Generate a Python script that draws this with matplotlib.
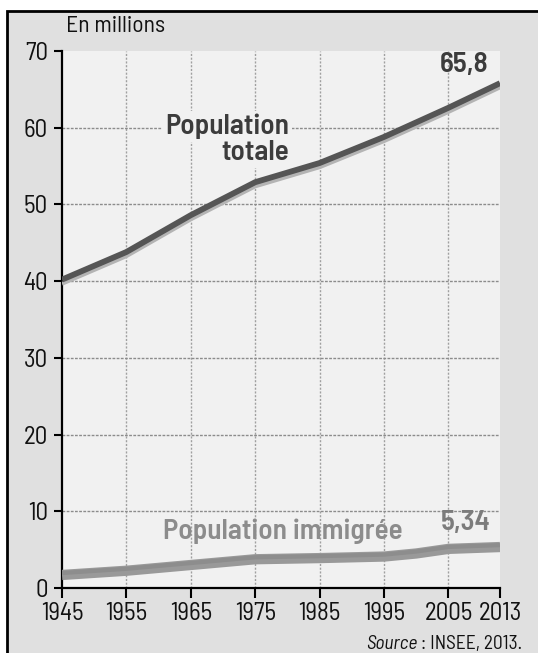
import numpy as np
import matplotlib
matplotlib.use('Agg')
import matplotlib.pyplot as plt
from matplotlib.patches import Rectangle

annees = [1945, 1955, 1965, 1975, 1985, 1995, 2005, 2013]
pop_totale = [40.2, 43.8, 48.6, 52.9, 55.4, 58.8, 62.6, 65.8]
annees_imm = [1945, 1955, 1965, 1975, 1985, 1995, 2000, 2005, 2013]
pop_immigree = [1.7, 2.25, 3.0, 3.75, 3.9, 4.1, 4.5, 5.1, 5.34]
yticks = [0, 10, 20, 30, 40, 50, 60, 70]

TXT = ['Barlow Semi Condensed', 'DejaVu Sans']
plt.rcParams['font.family'] = TXT

fig = plt.figure(figsize=(5.38, 6.53), dpi=100, facecolor='white')
# fond gris encadre (bord noir en haut et a gauche)
fig.patches.append(Rectangle((7 / 538, -0.05), 1.1, 1 - 11 / 653 + 0.05,
                             transform=fig.transFigure, facecolor='#e0e0e0',
                             edgecolor='black', lw=2, zorder=-5))

ax = fig.add_axes([62 / 538, 65 / 653, 438 / 538, 537 / 653])
ax.set_facecolor('#f1f1f1')
ax.set_xlim(1945, 2013)
ax.set_ylim(0, 70)
ax.set_xticks(annees)
ax.set_yticks(yticks)

for x in annees[1:-1]:
    ax.axvline(x, color='#a0a0a0', lw=1, ls=(0, (1.5, 1.2)), zorder=1)
for y in yticks[1:-1]:
    ax.axhline(y, color='#8c8c8c', lw=1, ls=(0, (2, 1)), zorder=1)

# population totale : trait fonce + ombre claire dessous
ax.plot(annees, np.array(pop_totale) - 0.55, color='#b4b4b4', lw=2.8, zorder=3,
        solid_capstyle='butt')
ax.plot(annees, pop_totale, color='#555555', lw=4.2, zorder=4,
        solid_capstyle='butt')
# population immigree : bande grise epaisse
ax.plot(annees_imm, pop_immigree, color='#999999', lw=7.4, zorder=3,
        solid_capstyle='butt')
ax.plot(annees_imm, np.array(pop_immigree) + 0.25, color='#8a8a8a', lw=3, zorder=4,
        solid_capstyle='butt', alpha=0.8)

for s in ['top', 'right']:
    ax.spines[s].set_visible(False)
ax.spines['left'].set_linewidth(1.6)
ax.spines['bottom'].set_linewidth(1.6)
ax.tick_params(axis='x', length=7, width=1.5, labelsize=18, pad=3,
               labelcolor='#111111')
ax.tick_params(axis='y', length=6, width=1.5, labelsize=18, pad=4,
               labelcolor='#111111')

fig.text(66 / 538, 1 - 27 / 653, 'En millions', fontsize=17, color='#111111',
         va='center', ha='left')

bb = dict(facecolor='#f1f1f1', edgecolor='none', pad=2)
ax.text(1980.3, 60.2, 'Population', fontsize=21, fontweight='semibold',
        color='#3c3c3c', ha='right', va='center', zorder=5, bbox=bb)
ax.text(1980.3, 56.8, 'totale', fontsize=21, fontweight='semibold', color='#3c3c3c',
        ha='right', va='center', zorder=5, bbox=bb)
ax.text(2011.2, 68.3, '65,8', fontsize=21, fontweight='semibold', color='#3c3c3c',
        ha='right', va='center')

ax.text(1979.3, 7.4, 'Population immigrée', fontsize=21, fontweight='semibold',
        color='#8c8c8c', ha='center', va='center')
ax.text(2011.6, 8.5, str(pop_immigree[-1]).replace('.', ','), fontsize=21,
        fontweight='semibold', color='#7c7c7c', ha='right', va='center')

t = fig.text(522 / 538, 9 / 653, ' : INSEE, 2013.', fontsize=14, ha='right',
             va='center', color='#111111')
fig.canvas.draw()
ext = t.get_window_extent()
fig.text(ext.x0 / fig.bbox.width, 9 / 653, 'Source', fontsize=14, style='italic',
         ha='right', va='center', color='#111111')

fig.savefig('out.png', dpi=100, facecolor=fig.get_facecolor())
